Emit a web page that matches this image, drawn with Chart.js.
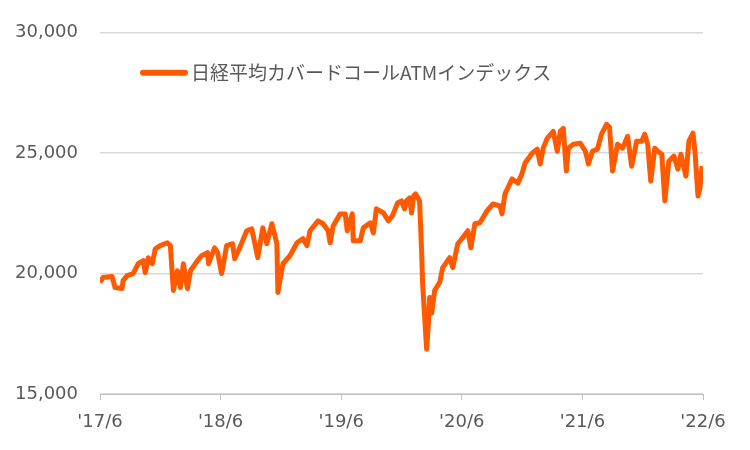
<!DOCTYPE html>
<html>
<head>
<meta charset="utf-8">
<script src="https://cdn.jsdelivr.net/npm/chart.js@4"></script>
<style>
  html, body { margin: 0; padding: 0; background: #fff; }
  #wrap { width: 750px; height: 450px; }
</style>
</head>
<body>
<div id="wrap"><canvas id="chart"></canvas></div>
<script>
// 系列名
const seriesName = "日経平均カバードコールATMインデックス";

// 2017年6月からの経過月数
const months = [
  0, 0.3, 1.2, 1.5, 2.2, 2.3, 2.7, 3.3, 3.8, 4.3, 4.5, 4.8, 5.2, 5.5, 6.0, 6.7, 7.0,
  7.3, 7.7, 8.0, 8.3, 8.7, 9.0, 9.7, 10.1, 10.7, 10.8, 11.4, 11.7, 12.1, 12.6, 13.2,
  13.4, 13.9, 14.6, 15.1, 15.7, 16.2, 16.6, 17.1, 17.6, 17.7, 18.2, 18.9, 19.6, 20.2,
  20.6, 20.9, 21.7, 22.2, 22.7, 22.9, 23.2, 23.9, 24.4, 24.6, 25.1, 25.2, 25.9, 26.2,
  26.9, 27.2, 27.5, 28.2, 28.7, 29.1, 29.6, 30.0, 30.3, 30.5, 30.8, 31.0, 31.2, 31.4,
  31.8, 32.0, 32.1, 32.5, 32.7, 32.8, 33.0, 33.3, 33.8, 34.1, 34.8, 35.1, 35.6, 36.1,
  36.6, 36.9, 37.3, 37.8, 38.5, 39.1, 39.8, 40.0, 40.3, 41.0, 41.6, 42.0, 42.3, 43.0,
  43.5, 43.8, 44.1, 44.5, 45.1, 45.5, 45.8, 46.1, 46.4, 46.6, 47.1, 47.8, 48.3, 48.6,
  49.0, 49.5, 49.9, 50.4, 50.7, 51.0, 51.5, 52.0, 52.5, 52.9, 53.4, 53.9, 54.2, 54.5,
  54.8, 55.2, 55.5, 55.9, 56.2, 56.6, 57.1, 57.5, 57.8, 58.3, 58.6, 59.0, 59.2, 59.5,
  59.7, 59.9
];

// 指数値
const values = [
  19630, 19840, 19880, 19420, 19380, 19710, 19920, 20000, 20410, 20540, 20040, 20660, 20410, 21030, 21160, 21280, 21160,
  19300, 20120, 19420, 20410, 19380, 20120, 20540, 20740, 20870, 20410, 21070, 20870, 20000, 21160, 21240,
  20620, 21070, 21780, 21860, 20660, 21900, 21240, 22070, 21240, 19220, 20410, 20740, 21280, 21450,
  21160, 21780, 22190, 22070, 21780, 21280, 21980, 22480, 22480, 21780, 22480, 21360, 21360, 21900,
  22110, 21690, 22690, 22520, 22190, 22400, 22930, 23020, 22690, 23020, 23140, 22520, 23220, 23310,
  23020, 20950, 19590, 16860, 18060, 19010, 18350, 19300, 19630, 20250, 20660, 20250, 21240, 21490,
  21780, 21070, 22070, 22110, 22600, 22890, 22810, 22480, 23310, 23930, 23760, 24170, 24590, 25000,
  25170, 24550, 25210, 25620, 25910, 25080, 25910, 26030, 24260, 25210, 25370, 25410, 25080, 24550,
  25080, 25170, 25790, 26200, 26080, 24260, 25370, 25210, 25700, 24460, 25500, 25500, 25790, 25370,
  23840, 25210, 25080, 24960, 23020, 24670, 24880, 24340, 24960, 24050, 25500, 25830, 25080, 23220,
  23550, 24460
];

// 横軸ラベル
const tickLabels = ["'17/6", "'18/6", "'19/6", "'20/6", "'21/6", "'22/6"];

const lineColor = "#ff5a00";
const textColor = "#595959";

// グラフ内の凡例
const insideLegend = {
  id: "insideLegend",
  afterDraw(chart) {
    const { ctx, chartArea } = chart;
    const y = chartArea.top + 40;
    const x0 = chartArea.left + 43;
    ctx.save();
    ctx.strokeStyle = lineColor;
    ctx.lineWidth = 6;
    ctx.lineCap = "round";
    ctx.beginPath();
    ctx.moveTo(x0, y);
    ctx.lineTo(x0 + 42, y);
    ctx.stroke();
    ctx.fillStyle = textColor;
    ctx.font = '19px "Noto Sans CJK JP"';
    ctx.textBaseline = "middle";
    ctx.fillText(seriesName, x0 + 48, y);
    ctx.restore();
  }
};

const ctx = document.getElementById("chart").getContext("2d");

new Chart(ctx, {
  type: "line",
  data: {
    datasets: [{
      label: seriesName,
      data: months.map((m, i) => ({ x: m, y: values[i] })),
      borderColor: lineColor,
      backgroundColor: lineColor,
      borderWidth: 5,
      pointRadius: 0,
      tension: 0,
      borderJoinStyle: "round"
    }]
  },
  options: {
    responsive: true,
    maintainAspectRatio: false,
    animation: false,
    layout: { padding: { top: 31, right: 47, bottom: 0, left: 0 } },
    plugins: {
      legend: { display: false },
      tooltip: { enabled: false }
    },
    scales: {
      x: {
        type: "linear",
        min: 0,
        max: 60,
        afterFit(scale) { scale.height = 56; },
        afterBuildTicks(scale) {
          scale.ticks = tickLabels.map((_, i) => ({ value: i * 12 }));
        },
        ticks: {
          color: textColor,
          font: { family: "DejaVu Sans", size: 18 },
          padding: 12,
          maxRotation: 0,
          callback: (v) => tickLabels[Math.round(v / 12)]
        },
        grid: {
          drawOnChartArea: false,
          drawTicks: true,
          tickLength: 6,
          color: "#bfbfbf"
        },
        border: { color: "#bfbfbf", width: 1 }
      },
      y: {
        min: 15000,
        max: 30000,
        afterFit(scale) { scale.width = 100; },
        ticks: {
          stepSize: 5000,
          color: textColor,
          font: { family: "DejaVu Sans", size: 18 },
          padding: 22,
          callback: (v) => v.toLocaleString("en-US")
        },
        grid: {
          drawTicks: false,
          color: "#d9d9d9",
          lineWidth: 1.5
        },
        border: { display: false }
      }
    }
  },
  plugins: [insideLegend]
});
</script>
</body>
</html>
